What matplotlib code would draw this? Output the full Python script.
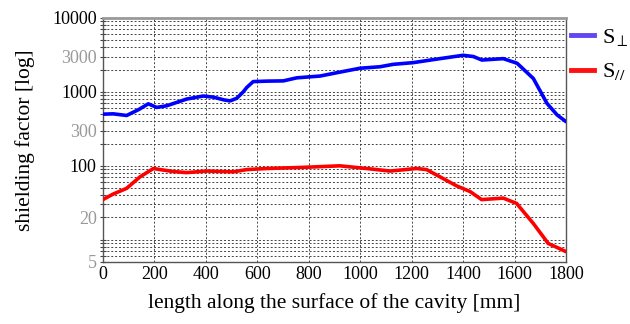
import matplotlib
matplotlib.use("Agg")
import matplotlib.pyplot as plt
from matplotlib.lines import Line2D
from matplotlib.ticker import FixedLocator, LogLocator, NullFormatter

plt.rcParams['font.family'] = ['Liberation Serif', 'DejaVu Serif']
plt.rcParams['mathtext.fontset'] = 'stix'

# data
perp_x = [0, 40, 92, 140, 176, 209, 248, 325, 390, 429, 470, 494, 520, 545, 559, 584,
          640, 701, 753, 844, 920, 999, 1077, 1128, 1206, 1310, 1400, 1440, 1473, 1556,
          1610, 1673, 1726, 1765, 1800]
perp_y = [500, 505, 480, 580, 690, 617, 650, 800, 880, 850, 780, 756, 820, 1000, 1150, 1380,
          1400, 1410, 1550, 1640, 1850, 2090, 2190, 2360, 2490, 2820, 3130, 3010, 2700, 2820,
          2440, 1520, 700, 490, 396]
par_x = [0, 40, 92, 144, 196, 222, 270, 325, 403, 507, 559, 636, 766, 921, 1025, 1116,
         1219, 1258, 1310, 1375, 1427, 1472, 1556, 1608, 1673, 1731, 1764, 1800]
par_y = [35, 41.6, 49.6, 71, 92, 89, 84, 81, 85, 83, 89, 92, 95, 100, 92, 85,
         92, 89, 71, 53.5, 44.9, 34.9, 36.6, 31, 16.6, 8.9, 7.9, 6.9]

y_ticks = [5, 20, 100, 300, 1000, 3000, 10000]
y_tick_labels = ['5', '20', '100', '300', '1000', '3000', '10000']
y_tick_colors = ['#999999', '#999999', 'black', '#999999', 'black', '#999999', 'black']
x_ticks = [0, 200, 400, 600, 800, 1000, 1200, 1400, 1600, 1800]

labels = [r'S$_{\perp}$', r'S$_{//}$']

fig = plt.figure(figsize=(6.3, 3.24), dpi=100)
ax = fig.add_axes([103/630, 1-262/324, (566-103)/630, (262-18)/324])

ax.plot(perp_x, perp_y, color='#0000ff', lw=2.6, solid_joinstyle='round', solid_capstyle='round', zorder=3)
ax.plot(par_x, par_y, color='#ff0000', lw=2.6, solid_joinstyle='round', solid_capstyle='round', zorder=3)

ax.set_yscale('log')
ax.set_ylim(5, 10000)
ax.set_xlim(0, 1800)

ax.yaxis.set_major_locator(FixedLocator(y_ticks))
ax.set_yticklabels(y_tick_labels)
for lbl, c in zip(ax.get_yticklabels(), y_tick_colors):
    lbl.set_color(c)
ax.yaxis.set_minor_locator(LogLocator(base=10, subs=range(1, 10)))
ax.yaxis.set_minor_formatter(NullFormatter())
ax.set_xticks(x_ticks)

ax.grid(True, which='both', axis='y', color='#444444', ls=(0, (2, 2)), lw=0.7)
ax.grid(True, which='major', axis='x', color='#444444', ls=(0, (2, 2)), lw=0.7)

ax.tick_params(axis='y', which='both', direction='inout', length=5, width=0.8, color='#444444', labelsize=13, pad=2)
ax.tick_params(axis='x', which='both', length=0, labelsize=13, pad=3)

ax.spines['top'].set_color('#999999')
ax.spines['top'].set_linewidth(2)
for s in ['left', 'right', 'bottom']:
    ax.spines[s].set_color('#555555')
    ax.spines[s].set_linewidth(1)

ax.set_ylabel('shielding factor [log]', fontsize=15.5, labelpad=12)
ax.set_xlabel('length along the surface of the cavity [mm]', fontsize=15.5, labelpad=7)

handles = [Line2D([], [], color='#6347f0', lw=3.5), Line2D([], [], color='#ff1010', lw=3.5)]
fig.legend(handles, labels, loc='upper left', bbox_to_anchor=(571/630, 1-27/324),
           frameon=False, fontsize=16, handlelength=1.05, handletextpad=0.35, labelspacing=0.6,
           borderpad=0, borderaxespad=0)

fig.savefig('out.png', dpi=100)
